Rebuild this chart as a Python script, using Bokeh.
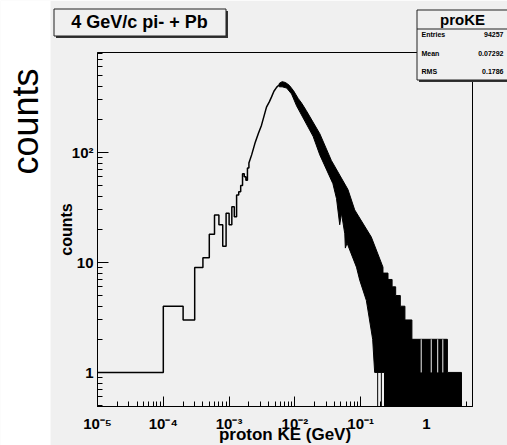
import math
import numpy as np
from bokeh.plotting import figure
from bokeh.models import Range1d, FixedTicker, CustomJSTickFormatter, Label, GridBox
from bokeh.embed import file_html
from bokeh.resources import INLINE

# ---------------- data ----------------
bin_width = 1e-4  # GeV, linear bins of the histogram
low_counts = [1, 4, 3, 9, 11, 18, 27, 22, 14, 28, 22, 32, 26, 41, 44, 50, 64, 60, 56, 72]

# rising side of the peak (sampled outline)
curve_x = [2.0e-3, 2.2e-3, 2.5e-3, 2.8e-3, 3.1e-3, 3.4e-3, 3.7e-3, 4.1e-3, 4.4e-3,
           4.8e-3, 5.3e-3, 5.8e-3, 6.3e-3, 6.9e-3, 7.5e-3]
curve_y = [80, 95, 124, 150, 176, 215, 258, 290, 318, 360, 392, 412, 421, 418, 409]

# noisy falling side: upper and lower envelope of the black band
upper_x = [0.0058, 0.0064, 0.0072, 0.0082, 0.0095, 0.0112, 0.0127, 0.0149, 0.0239,
           0.0358, 0.064, 0.0811, 0.145, 0.218]
upper_y = [425, 440, 432, 408, 365, 310, 280, 240, 148, 84.6, 46, 30, 17, 9.06]
lower_x = [0.0058, 0.0064, 0.0075, 0.0089, 0.0106, 0.0189, 0.0239, 0.0378, 0.0429,
           0.048, 0.051, 0.0573, 0.0584, 0.062, 0.0862, 0.0966, 0.122, 0.152, 0.163]
lower_y = [395, 395, 385, 340, 265, 140, 95, 52, 38, 22, 28, 18.2, 13.5, 15, 9.06,
           6.9, 4.5, 2, 1]
lower_one_end = 0.23          # bins stay >= 1 until here, then drop to 0
tail_edges = [0.218, 0.26, 0.30, 0.34, 0.40, 0.47, 0.60, 2.08, 3.4]
tail_levels = [8, 7, 6, 5, 4, 3, 2, 1]
gap_x = [0.831, 1.18, 1.48, 1.77]   # single-count bins inside the level-2 block
zero_x = [0.181, 0.206]             # empty bins before the solid tail

x_ticks = [1e-5, 1e-4, 1e-3, 1e-2, 1e-1, 1]
x_labels = ["10⁻⁵", "10⁻⁴", "10⁻³", "10⁻²", "10⁻¹", "1"]
y_ticks = [1, 10, 100]
y_labels = ["1", "10", "10²"]

title_text = "4 GeV/c pi- + Pb"
stats_name = "proKE"
stats_keys = ["Entries", "Mean", "RMS"]
stats_vals = ["94257", "0.07292", "0.1786"]
x_title = "proton KE (GeV)"
y_title = "counts"
outer_title = "counts"

X_START, X_END = 1e-5, 5.0
Y_START, Y_END = 0.49, 810

BG = "#f0f0f0"
FONT = "Liberation Sans"

# ---------------- page geometry (pixels) ----------------
W, H = 507, 445
FR_L, FR_R, FR_T, FR_B = 97, 472, 52, 406

# ---------------- main ROOT pad ----------------
p = figure(x_axis_type="log", y_axis_type="log",
           x_range=Range1d(X_START, X_END), y_range=Range1d(Y_START, Y_END),
           frame_width=FR_R - FR_L, frame_height=FR_B - FR_T,
           min_border_left=FR_L, min_border_right=W - FR_R,
           min_border_top=FR_T, min_border_bottom=H - FR_B,
           output_backend="svg", toolbar_location=None,
           background_fill_color=BG, border_fill_color=BG)
p.frame_align = False
p.grid.visible = False
p.outline_line_color = "black"
p.outline_line_width = 1

x_minor = [k * 10.0 ** n for n in range(-5, 1) for k in range(2, 10) if k * 10.0 ** n <= X_END]
y_minor = [k * 10.0 ** n for n in range(-1, 3) for k in range(2, 10)
           if Y_START <= k * 10.0 ** n <= Y_END]

fmt_code = """
const i = tv.findIndex(t => Math.abs(Math.log10(t) - Math.log10(tick)) < 1e-6);
return i >= 0 ? tl[i] : "";
"""
xa = p.xaxis[0]
xa.ticker = FixedTicker(ticks=x_ticks, minor_ticks=x_minor)
xa.formatter = CustomJSTickFormatter(args=dict(tv=x_ticks, tl=x_labels), code=fmt_code)
ya = p.yaxis[0]
ya.ticker = FixedTicker(ticks=y_ticks, minor_ticks=y_minor)
ya.formatter = CustomJSTickFormatter(args=dict(tv=y_ticks, tl=y_labels), code=fmt_code)

for ax, maj, mnr, st in ((xa, 10, 5, 8), (ya, 11, 5, 4)):
    ax.major_tick_in = maj
    ax.major_tick_out = 0
    ax.minor_tick_in = mnr
    ax.minor_tick_out = 0
    ax.axis_line_color = "black"
    ax.major_tick_line_color = "black"
    ax.minor_tick_line_color = "black"
    ax.major_label_text_font = FONT
    ax.major_label_text_font_style = "bold"
    ax.major_label_text_font_size = "15px"
    ax.major_label_text_color = "black"
    ax.major_label_standoff = st
    ax.axis_label_text_font = FONT
    ax.axis_label_text_font_style = "bold"
    ax.axis_label_text_color = "black"

xa.axis_label = x_title
xa.axis_label_text_font_size = "17px"
xa.axis_label_standoff = -10
ya.axis_label = y_title
ya.axis_label_text_font_size = "16px"
ya.axis_label_standoff = -6

# histogram outline at low x
edges = np.arange(len(low_counts) + 1) * bin_width
edges[0] = X_START
hx = list(np.repeat(edges, 2)[1:-1]) + curve_x
hy = list(np.repeat(low_counts, 2)) + curve_y
p.line(hx, hy, line_color="black", line_width=1.5)

# dense noisy region as a filled band
y_floor = Y_START * 0.5
stair_x, stair_y = [], []
for i, lev in enumerate(tail_levels):
    stair_x += [tail_edges[i], tail_edges[i + 1]]
    stair_y += [lev, lev]
poly_x = upper_x + stair_x + [tail_edges[-1], lower_one_end, lower_one_end] + lower_x[::-1]
poly_y = upper_y + stair_y + [y_floor, y_floor, 1] + lower_y[::-1]
p.patch(poly_x, poly_y, fill_color="black", line_color="black", line_width=1)
p.segment(x0=gap_x, y0=[1] * len(gap_x), x1=gap_x, y1=[2] * len(gap_x),
          line_color=BG, line_width=1)
p.segment(x0=zero_x, y0=[y_floor] * len(zero_x), x1=zero_x, y1=[1] * len(zero_x),
          line_color="black", line_width=1)

# ---------------- transparent overlay for the pad decorations ----------------
ov = figure(width=W, height=H, x_range=Range1d(0, W), y_range=Range1d(0, H),
            x_axis_type=None, y_axis_type=None, toolbar_location=None,
            output_backend="svg", min_border=0, outline_line_color=None,
            background_fill_alpha=0, border_fill_alpha=0)
ov.frame_align = False
ov.grid.visible = False


def box(l, t, r, b, fill, line=None):
    ov.quad(left=[l], right=[r], top=[H - t], bottom=[H - b], fill_color=fill,
            line_color=line, line_width=1)


def text(x, y, s, size, align="center", style="bold", angle=0.0, baseline="middle"):
    ov.add_layout(Label(x=x, y=H - y, text=s, text_align=align, text_baseline=baseline,
                        text_font=FONT, text_font_style=style, text_font_size=size,
                        text_color="black", angle=angle))


# white strip on the left with the large label
box(0, 0, 50, H, "white")
text(25, 121, outer_title, "36px", style="normal", angle=math.pi / 2)

# title box
box(55.5, 10.5, 227.5, 37.5, "#333333")
box(53.5, 8.5, 225.5, 35.5, BG, "#222222")
text(139, 21.5, title_text, "18px")

# statistics box
box(418.5, 11.5, 512, 81.5, "#333333")
box(416.5, 9.5, 510, 79.5, BG, "#222222")
ov.segment(x0=[416.5], y0=[H - 28.5], x1=[510], y1=[H - 28.5], line_color="#222222",
           line_width=1)
text(462, 18.5, stats_name, "15px")
for k, (key, val) in enumerate(zip(stats_keys, stats_vals)):
    yy = 34 + 18.5 * k
    text(421, yy, key, "7px", align="left")
    text(503, yy, val, "7px", align="right")

layout = GridBox(children=[(p, 0, 0), (ov, 0, 0)])
open("out.html", "w").write(file_html(layout, INLINE))
